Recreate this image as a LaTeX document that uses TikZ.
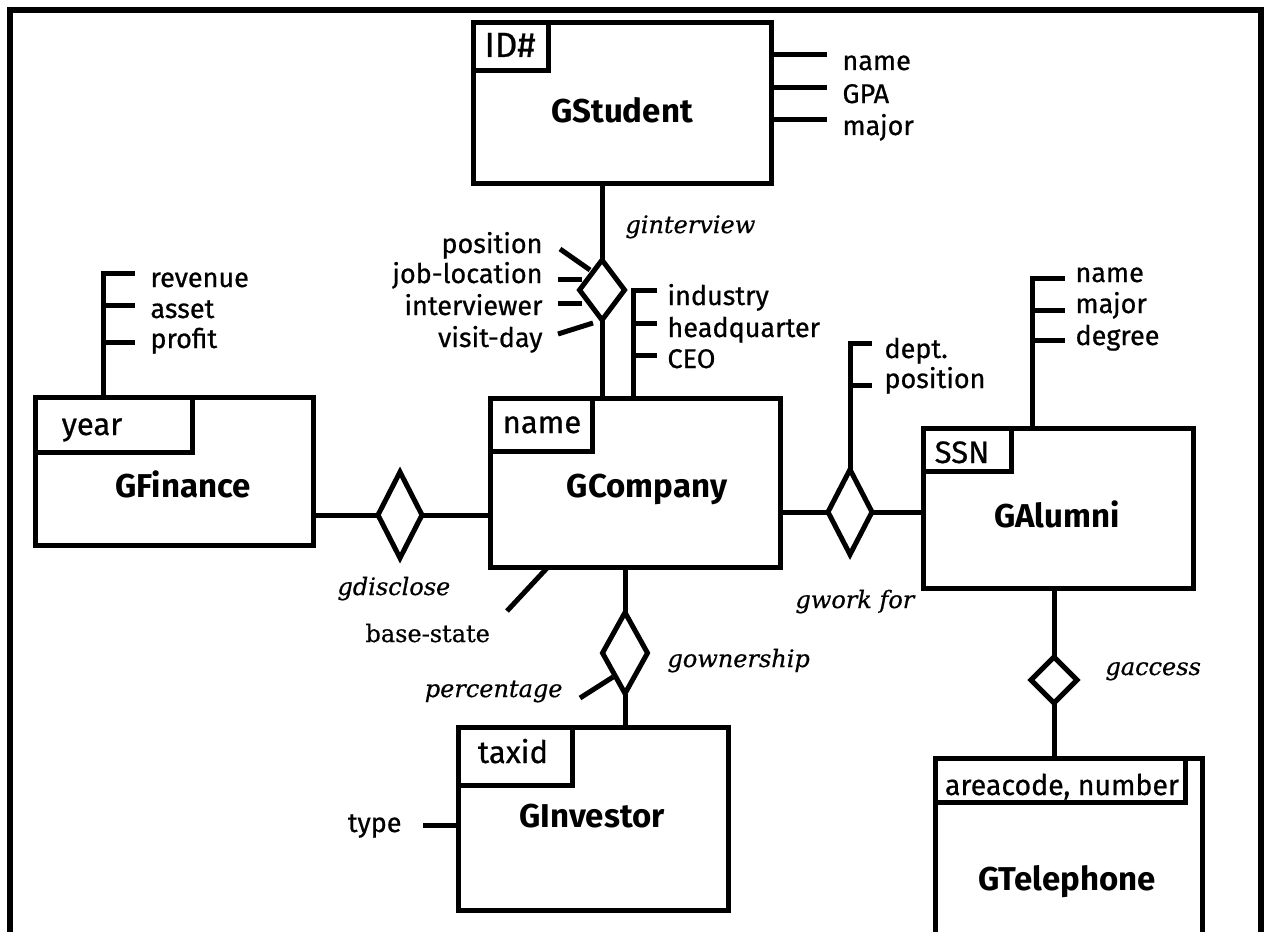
\documentclass[tikz,border=0pt]{standalone}
\usepackage{fontspec}
\setmainfont{Fira Sans}
\newfontfamily\plainfont{Fira Sans}[FakeBold=0.7]
\newfontfamily\relfont{DejaVu Serif}[FakeBold=0.6]
\usetikzlibrary{shapes.geometric}
\begin{document}
\begin{tikzpicture}[x=1pt,y=-1pt,line width=5pt,
  box/.style={draw,rectangle,anchor=north west,outer sep=0pt,inner sep=0pt},
  rel/.style={draw,diamond,outer sep=0pt,inner sep=0pt,fill=white},
  title/.style={font=\fontsize{33}{38}\selectfont\bfseries,anchor=base,inner sep=0pt},
  keytext/.style={font=\fontsize{31}{36}\selectfont\plainfont,anchor=base,inner sep=0pt},
  attr/.style={font=\fontsize{27}{32}\selectfont\plainfont,anchor=base west,inner sep=0pt},
  attrr/.style={attr,anchor=base east},
  rname/.style={font=\fontsize{24}{28}\selectfont\relfont\itshape,anchor=base west,inner sep=0pt},
  rnamer/.style={rname,anchor=base east},
  serif/.style={font=\fontsize{24}{28}\selectfont\relfont,anchor=base west,inner sep=0pt},
  frame/.style={line width=5.5pt}]
\clip (0,0) rectangle (1268,931);
\fill[white] (0,0) rectangle (1268,931);

% outer frame, open at the bottom
\coordinate (fbl) at (10,940);
\coordinate (ftl) at (10,10);
\coordinate (ftr) at (1261,10);
\coordinate (fbr) at (1261,940);
\draw[frame] (fbl) -- (ftl) -- (ftr) -- (fbr);

% ---------- entities ----------
\node[box,minimum width=298,minimum height=160] (stu) at (473,23) {};
\node[box,minimum width=75,minimum height=48] (stuK) at (473,23) {};
\node[keytext,font=\fontsize{35}{40}\selectfont\plainfont] (stuKT) at (510,57) {ID\#};
\node[title] (stuT) at (622,122) {GStudent};

\node[box,minimum width=278,minimum height=148] (fin) at (35,397) {};
\node[box,minimum width=157,minimum height=55] (finK) at (35,397) {};
\node[keytext] (finKT) at (92,435) {year};
\node[title] (finT) at (183,497) {GFinance};

\node[box,minimum width=290,minimum height=169] (com) at (490,398) {};
\node[box,minimum width=102,minimum height=53] (comK) at (490,398) {};
\node[keytext] (comKT) at (542,433) {name};
\node[title] (comT) at (647,497) {GCompany};

\node[box,minimum width=270,minimum height=160] (alu) at (923,428) {};
\node[box,minimum width=88,minimum height=43] (aluK) at (923,428) {};
\node[keytext] (aluKT) at (962,463) {SSN};
\node[title] (aluT) at (1057,527) {GAlumni};

\node[box,minimum width=270,minimum height=183] (inv) at (458,727) {};
\node[box,minimum width=114,minimum height=58] (invK) at (458,727) {};
\node[keytext] (invKT) at (513,763) {taxid};
\node[title] (invT) at (592,827) {GInvestor};

\node[box,minimum width=267,minimum height=220] (tel) at (935,758) {};
\node[box,minimum width=250,minimum height=44] (telK) at (935,758) {};
\node[keytext,font=\fontsize{28.5}{34}\selectfont\plainfont] (telKT) at (1062,795) {areacode, number};
\node[title] (telT) at (1067,890) {GTelephone};

% ---------- relationships ----------
\node[rel,minimum width=45,minimum height=60] (d1) at (602,290) {};
\node[rel,minimum width=44,minimum height=86] (d2) at (400,515) {};
\node[rel,minimum width=44,minimum height=85] (d3) at (850,512) {};
\node[rel,minimum width=45,minimum height=81] (d4) at (625,653) {};
\node[rel,minimum width=46,minimum height=46] (d5) at (1054,680) {};

\draw (d1.north |- stu.south) -- (d1.north);
\draw (d1.south) -- (d1.south |- com.north);
\draw (d2.west -| fin.east) -- (d2.west);
\draw (d2.east) -- (d2.east -| com.west);
\draw (d3.west -| com.east) -- (d3.west);
\draw (d3.east) -- (d3.east -| alu.west);
\draw (d4.north |- com.south) -- (d4.north);
\draw (d4.south) -- (d4.south |- inv.north);
\draw (d5.north |- alu.south) -- (d5.north);
\draw (d5.south) -- (d5.south |- tel.north);

\node[rname] (l1) at (623,233) {ginterview};
\node[rname] (l2) at (335,595) {gdisclose};
\node[rname] (l3) at (793,608) {gwork for};
\node[rname] (l4) at (665,667) {gownership};
\node[rname] (l5) at (1103,675) {gaccess};

% ---------- attributes ----------
% GStudent
\coordinate (sa1) at (827,55);
\coordinate (sa2) at (827,88);
\coordinate (sa3) at (827,120);
\draw (sa1 -| stu.east) -- (sa1);
\draw (sa2 -| stu.east) -- (sa2);
\draw (sa3 -| stu.east) -- (sa3);
\node[attr] (st1) at (840,70) {name};
\node[attr] (st2) at (840,103) {GPA};
\node[attr] (st3) at (840,135) {major};

% GFinance
\coordinate (fa0) at (103,273);
\coordinate (fa1) at (135,273);
\coordinate (fa2) at (135,305);
\coordinate (fa3) at (135,342);
\draw (fa1) -- (fa0) -- (fa0 |- fin.north);
\draw (fa2 -| fa0) -- (fa2);
\draw (fa3 -| fa0) -- (fa3);
\node[attr] (ft1) at (148,287) {revenue};
\node[attr] (ft2) at (148,318) {asset};
\node[attr] (ft3) at (148,348) {profit};

% GCompany
\coordinate (ca0) at (633,290);
\coordinate (ca1) at (657,290);
\coordinate (ca2) at (657,323);
\coordinate (ca3) at (657,355);
\draw (ca1) -- (ca0) -- (ca0 |- com.north);
\draw (ca2 -| ca0) -- (ca2);
\draw (ca3 -| ca0) -- (ca3);
\node[attr] (ct1) at (665,305) {industry};
\node[attr] (ct2) at (665,337) {headquarter};
\node[attr] (ct3) at (665,368) {CEO};
\coordinate (cb) at (507,611);
\draw (com.south west) ++(58,0) coordinate (cb0) -- (cb);
\node[serif] (ctb) at (363,642) {base-state};

% GAlumni
\coordinate (aa0) at (1032,278);
\coordinate (aa1) at (1065,278);
\coordinate (aa2) at (1065,310);
\coordinate (aa3) at (1065,340);
\draw (aa1) -- (aa0) -- (aa0 |- alu.north);
\draw (aa2 -| aa0) -- (aa2);
\draw (aa3 -| aa0) -- (aa3);
\node[attr] (at1) at (1073,282) {name};
\node[attr] (at2) at (1073,313) {major};
\node[attr] (at3) at (1073,345) {degree};

% GInvestor
\coordinate (ia) at (423,825);
\draw (ia) -- (ia -| inv.west);
\node[attr,anchor=base east] (it1) at (404,832) {type};

% ginterview
\coordinate (ra1) at (560,249);
\coordinate (rb1) at (590,270);
\coordinate (ra2) at (558,279);
\coordinate (rb2) at (582,279);
\coordinate (ra3) at (558,303);
\coordinate (rb3) at (582,303);
\coordinate (ra4) at (558,334);
\coordinate (rb4) at (593,323);
\draw (ra1) -- (rb1);
\draw (ra2) -- (rb2);
\draw (ra3) -- (rb3);
\draw (ra4) -- (rb4);
\node[attrr] (rt1) at (545,253) {position};
\node[attrr] (rt2) at (545,283) {job-location};
\node[attrr] (rt3) at (545,315) {interviewer};
\node[attrr] (rt4) at (545,347) {visit-day};

% gwork for
\coordinate (wa0) at (850,343);
\coordinate (wa1) at (872,343);
\coordinate (wa2) at (872,385);
\draw (wa1) -- (wa0) -- (d3.north);
\draw (wa2 -| wa0) -- (wa2);
\node[attr] (wt1) at (882,358) {dept.};
\node[attr] (wt2) at (882,388) {position};

% gownership
\coordinate (oa) at (580,698);
\coordinate (ob) at (613,677);
\draw (oa) -- (ob);
\node[rnamer] (ot) at (565,697) {percentage};

\end{tikzpicture}
\end{document}
